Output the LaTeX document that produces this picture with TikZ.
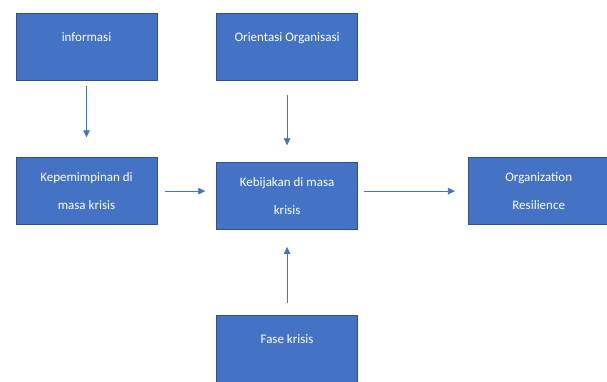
\documentclass[tikz,border=0pt]{standalone}
\usepackage{xcolor}
\usepackage{fontspec}
\setmainfont{Carlito}
\usepackage{tikz}
\usetikzlibrary{positioning,arrows.meta}
\definecolor{boxblue}{HTML}{4472C4}
\definecolor{edgeblue}{HTML}{2F528F}
\begin{document}
\begin{tikzpicture}[
    node distance           = 77pt,
    every node/.style       = {font=\fontsize{13}{28}\selectfont, text=white},
    box/.style              = {draw=edgeblue, fill=boxblue, line width=0.6pt,
                               minimum width=141pt, minimum height=67pt,
                               align=center, inner sep=0pt},
    onerow/.style           = {text height=10pt, text depth=21pt},
    link/.style             = {draw=boxblue, line width=0.8pt,
                               -{Triangle[length=7pt,width=6.5pt]}}
  ]
\useasboundingbox (0,0) rectangle (607pt,-381pt);
\node[box,onerow] (info) at (86.5pt,-46.5pt) {informasi};
\node[box,onerow,right=59pt of info] (orient) {Orientasi Organisasi};
\node[box,below=77pt of info] (lead) {Kepemimpinan di\\masa krisis};
\node[box,below=82pt of orient] (policy) {Kebijakan di masa\\krisis};
\node[box,right=110pt of policy,yshift=5pt] (resil) {Organization\\Resilience};
\node[box,onerow,below=85pt of policy] (phase) {Fase krisis};

\draw[link,shorten <=6pt,shorten >=20pt] (info) -- (lead);
\draw[link,shorten <=15pt,shorten >=17pt] (orient) -- (policy);
\draw[link,shorten <=8pt,shorten >=11pt] (lead.east) -- (lead.east -| policy.west);
\draw[link,shorten <=6pt,shorten >=13pt] (policy.east |- resil.west) -- (resil.west);
\draw[link,shorten <=12pt,shorten >=17pt] (phase) -- (policy);
\end{tikzpicture}
\end{document}
